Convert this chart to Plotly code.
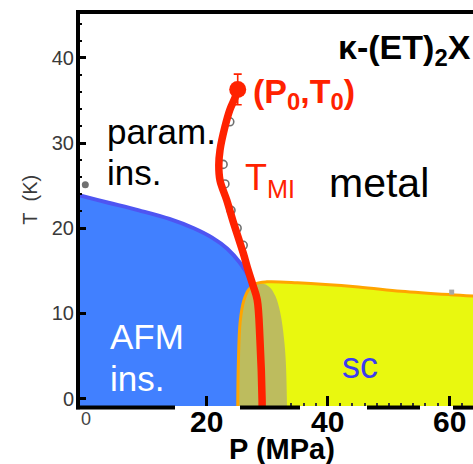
import plotly.graph_objects as go

# ---- data -----------------------------------------------------------------
# antiferromagnetic insulator boundary  (P in MPa, T in K)
afm_p = [-1.5, -1.0, 4.0, 9.0, 14.0, 18.0, 21.0, 23.5, 25.5, 27.0, 27.8]
afm_t = [24.0, 23.9, 23.0, 22.1, 21.1, 20.0, 18.9, 17.6, 16.0, 14.3, 12.5]

# superconducting dome boundary
sc_p = [25.2, 25.3, 25.6, 26.2, 27.0, 28.2, 30.0, 35.0, 45.0, 52.0, 60.0, 65.0]
sc_t = [-1.5, 4.0, 9.0, 11.5, 12.8, 13.5, 13.7, 13.6, 13.1, 12.6, 12.2, 12.0]

# coexistence region inside the superconducting phase
co_p = [25.3, 25.35, 25.6, 26.2, 27.0, 28.0, 29.2, 30.4, 31.4, 32.2, 32.8, 33.1, 33.3]
co_t = [-1.5, 5.0, 9.0, 11.5, 12.8, 13.3, 13.5, 13.1, 12.0, 10.0, 7.0, 4.2, -1.5]

# metal-insulator transition line T_MI
mi_p = [29.2, 29.2, 28.85, 28.4, 27.7, 26.9, 26.1, 24.4, 23.4, 22.3, 22.1, 22.3, 23.1, 23.9, 24.8, 25.2]
mi_t = [-1.5, -0.2, 6.9, 11.6, 13.3, 15.1, 17.1, 20.9, 23.3, 25.6, 27.4, 29.2, 31.9, 33.9, 35.4, 36.3]

# measured transition points
pts_p = [23.9, 22.8, 23.1, 24.1, 25.1, 26.1]
pts_t = [32.5, 27.5, 25.2, 22.1, 20.0, 18.0]
ambient_p = [0.2]
ambient_t = [25.1]
sc_mark_p = [60.3]
sc_mark_t = [12.5]

# critical end point with uncertainty
cep_p = [25.2]
cep_t = [36.3]
cep_err = [1.8]

x_ticks = [20, 40, 60]
y_ticks = [0, 10, 20, 30, 40]
x_minor = [34, 36, 38, 42, 44, 46, 48, 50, 52, 54, 56, 58, 62]
y_minor = [22, 24, 26, 28, 32, 34, 36, 38, 42, 44]

FONT = "Liberation Sans, Arial, sans-serif"

fig = go.Figure()

# AFM insulator area
fig.add_trace(go.Scatter(
    x=afm_p + [afm_p[-1], -1.5], y=afm_t + [-1.5, -1.5],
    fill="toself", fillcolor="#4180FF", mode="none", hoverinfo="skip"))
fig.add_trace(go.Scatter(
    x=afm_p, y=afm_t, mode="lines", line=dict(color="#4E55F2", width=4, shape="spline"),
    hoverinfo="skip"))

# superconducting area
fig.add_trace(go.Scatter(
    x=sc_p + [65.0], y=sc_t + [-1.5],
    fill="toself", fillcolor="#E9F80F", mode="none", hoverinfo="skip"))
fig.add_trace(go.Scatter(
    x=co_p, y=co_t, fill="toself", fillcolor="#BDBC5E", mode="lines",
    line=dict(color="#BDBC5E", width=0, shape="spline"), hoverinfo="skip"))
fig.add_trace(go.Scatter(
    x=sc_p, y=sc_t, mode="lines", line=dict(color="#FFA500", width=3, shape="spline"),
    hoverinfo="skip"))
fig.add_trace(go.Scatter(
    x=sc_mark_p, y=sc_mark_t, mode="markers",
    marker=dict(symbol="square", size=5, color="#A8A8A8"), hoverinfo="skip"))

# data points
fig.add_trace(go.Scatter(
    x=pts_p, y=pts_t, mode="markers",
    marker=dict(symbol="circle-open", size=8, color="#707070", line=dict(width=1.6)),
    hoverinfo="skip"))
fig.add_trace(go.Scatter(
    x=ambient_p, y=ambient_t, mode="markers",
    marker=dict(symbol="circle", size=7, color="#707070"), hoverinfo="skip"))

# T_MI line
fig.add_trace(go.Scatter(
    x=mi_p, y=mi_t, mode="lines", line=dict(color="#FF2200", width=7.5, shape="spline"),
    hoverinfo="skip"))

# critical end point
fig.add_trace(go.Scatter(
    x=cep_p, y=cep_t, mode="markers",
    marker=dict(symbol="circle", size=17, color="#FF2200"),
    error_y=dict(type="data", array=cep_err, color="#FF2200", thickness=1.6, width=4),
    hoverinfo="skip"))


def label(text, x, y, size, color, bold=False, xanchor="left", yanchor="middle",
          xref="x", yref="y", angle=0):
    fig.add_annotation(
        text=text, x=x, y=y, xref=xref, yref=yref, showarrow=False,
        xanchor=xanchor, yanchor=yanchor, textangle=angle,
        font=dict(family=FONT, size=size, color=color, weight="bold" if bold else "normal"))


label("κ-(ET)<sub>2</sub>X", 1.0, 0.905, 34, "black", bold=True, xanchor="right",
      xref="paper", yref="paper")
label("(P<sub>0</sub>,T<sub>0</sub>)", 27.4, 35.8, 34, "#FF2200", bold=True)
label("param.", 3.4, 31.4, 35, "black")
label("ins.", 3.4, 26.5, 35, "black")
label("T<sub>MI</sub>", 26.1, 25.7, 36, "#FF2200")
label("metal", 39.8, 25.3, 41, "black")
label("AFM", 4.0, 7.3, 35, "white")
label("ins.", 4.0, 2.4, 35, "white")
label("sc", 42.0, 3.9, 36, "#3C3CF0")
label("T\u00a0\u00a0(K)", -0.122, 0.523, 20, "#3A3A3A", xanchor="center",
      xref="paper", yref="paper", angle=-90)
label("P (MPa)", 0.516, -0.109, 29, "black", bold=True, xanchor="center",
      xref="paper", yref="paper")
label("0", 0.02, -0.033, 18, "#444444", xanchor="center", xref="paper", yref="paper")

# bold pressure tick labels sit tight under the axis
for v in x_ticks:
    label(str(v), v, -0.039, 30, "black", bold=True, xanchor="center", yref="paper")

# frame: heavy left and top edges, broken bottom edge
frame = [dict(x0=0, x1=0, y0=-0.008, y1=1.005), dict(x0=-0.005, x1=1.0, y0=1.0, y1=1.0)]
for a, b in [(76, 175), (240, 300), (367, 420), (453, 473)]:
    frame.append(dict(x0=(a - 78) / 395, x1=(b - 78) / 395, y0=-0.004, y1=-0.004))
for f in frame:
    fig.add_shape(type="line", xref="paper", yref="paper", line=dict(color="black", width=4), **f)

fig.update_layout(
    width=473, height=464,
    margin=dict(l=78, r=0, t=12, b=58),
    paper_bgcolor="white", plot_bgcolor="white",
    showlegend=False,
    xaxis=dict(
        range=[-1.0, 63.8], showgrid=False, zeroline=False, showline=False,
        tickmode="array", tickvals=x_ticks, ticks="inside", ticklen=10, tickwidth=3,
        tickcolor="black", showticklabels=False,
        minor=dict(tickmode="array", tickvals=x_minor, ticks="inside", ticklen=3,
                   tickwidth=1.5, tickcolor="#333333"),
    ),
    yaxis=dict(
        range=[-0.88, 45.4], showgrid=False, zeroline=False, showline=False,
        tickmode="array", tickvals=y_ticks, ticks="inside", ticklen=8, tickwidth=3,
        tickcolor="black", ticklabelstandoff=3,
        tickfont=dict(family=FONT, size=20, color="#3A3A3A"),
        minor=dict(tickmode="array", tickvals=y_minor, ticks="inside", ticklen=4,
                   tickwidth=2, tickcolor="black"),
    ),
)

fig.write_html("out.html")
